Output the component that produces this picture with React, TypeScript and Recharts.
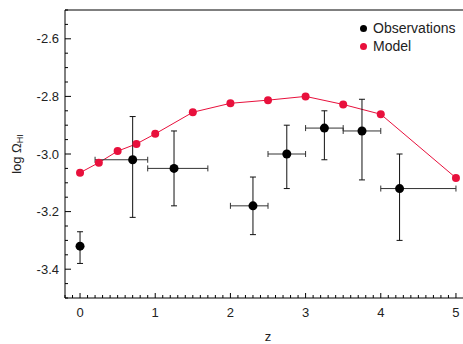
import React from 'react';
import {
  ComposedChart,
  Line,
  Scatter,
  ErrorBar,
  XAxis,
  YAxis,
  Legend,
} from 'recharts';

// model curve
const modelZ = [0, 0.25, 0.5, 0.75, 1, 1.5, 2, 2.5, 3, 3.5, 4, 5];
const modelLogOmega = [-3.065, -3.03, -2.99, -2.965, -2.93, -2.855, -2.824, -2.813, -2.8, -2.828, -2.862, -3.083];

// observations with errors (low / high deltas)
const obsZ = [0, 0.7, 1.25, 2.3, 2.75, 3.25, 3.75, 4.25];
const obsLogOmega = [-3.32, -3.02, -3.05, -3.18, -3.0, -2.91, -2.92, -3.12];
const obsErrLow = [0.06, 0.2, 0.13, 0.1, 0.12, 0.11, 0.17, 0.18];
const obsErrHigh = [0.05, 0.15, 0.13, 0.1, 0.1, 0.06, 0.11, 0.12];
const obsZLow = [0, 0.5, 0.35, 0.3, 0.25, 0.25, 0.25, 0.25];
const obsZHigh = [0, 0.2, 0.45, 0.2, 0.25, 0.25, 0.25, 0.75];

const xMajor = [0, 1, 2, 3, 4, 5];
const yMajor = [-2.6, -2.8, -3.0, -3.2, -3.4];

const xTicks = Array.from({ length: 55 }, (_, i) => Math.round((-0.2 + i * 0.1) * 100) / 100);
const yTicks = Array.from({ length: 21 }, (_, i) => Math.round((-3.5 + i * 0.05) * 100) / 100);

const modelData = modelZ.map((x, i) => ({ x, y: modelLogOmega[i] }));
const obsData = obsZ.map((x, i) => ({
  x,
  y: obsLogOmega[i],
  ey: [obsErrLow[i], obsErrHigh[i]],
  ex: [obsZLow[i], obsZHigh[i]],
}));

const RED = '#e8103c';
const FONT = '"Liberation Sans", Arial, sans-serif';

const isMajor = (v: number, list: number[]) => list.some((m) => Math.abs(m - v) < 1e-6);

const makeTick = (side: string, margin: number) => (props: any) => {
  const { x, y, payload } = props;
  const v = payload.value;
  if (side === 'bottom' || side === 'top') {
    const major = isMajor(v, xMajor);
    const len = major ? 5 : 3;
    const ay = side === 'bottom' ? y - margin : y + margin;
    const y2 = side === 'bottom' ? ay - len : ay + len;
    return (
      <g>
        <line x1={x} x2={x} y1={ay} y2={y2} stroke="#000" strokeWidth={1} />
        {side === 'bottom' && major && (
          <text x={x} y={y} dy="0.71em" textAnchor="middle" fontSize={13} fill="#222" fontFamily={FONT}>
            {v}
          </text>
        )}
      </g>
    );
  }
  const major = isMajor(v, yMajor);
  const len = major ? 6 : 3;
  const ax = side === 'left' ? x + margin : x - margin;
  const x2 = side === 'left' ? ax + len : ax - len;
  return (
    <g>
      <line x1={ax} x2={x2} y1={y} y2={y} stroke="#000" strokeWidth={1} />
      {side === 'left' && major && (
        <text x={x} y={y} dy="0.355em" textAnchor="end" fontSize={13} fill="#222" fontFamily={FONT}>
          {v.toFixed(1)}
        </text>
      )}
    </g>
  );
};

const YTitle = (props: any) => {
  const vb = props.viewBox;
  const cy = vb.y + vb.height / 2;
  return (
    <text transform={`translate(21, ${cy}) rotate(-90)`} textAnchor="middle" fontSize={13} fill="#222" fontFamily={FONT}>
      <tspan>log Ω</tspan>
      <tspan fontSize={9} dy={1.5}>HI</tspan>
    </text>
  );
};

const LegendBox = () => (
  <div style={{ fontFamily: FONT, fontSize: 14, color: '#222' }}>
    {[
      { name: 'Observations', color: '#000' },
      { name: 'Model', color: RED },
    ].map((it) => (
      <div key={it.name} style={{ display: 'flex', alignItems: 'center', height: 18 }}>
        <span
          style={{
            display: 'inline-block',
            width: 7,
            height: 7,
            borderRadius: '50%',
            background: it.color,
            marginLeft: 4.5,
            marginRight: 6.5,
          }}
        />
        <span>{it.name}</span>
      </div>
    ))}
  </div>
);

export default function App() {
  return (
    <div style={{ position: 'absolute', left: 0, top: 0, width: 463, height: 344, overflow: 'hidden', background: '#fff' }}>
      <ComposedChart width={472} height={344} margin={{ top: 9, right: 0, bottom: 0, left: 0 }}>
        <XAxis
          dataKey="x"
          type="number"
          scale="linear"
          domain={[-0.2, 5.2]}
          allowDataOverflow
          ticks={xTicks}
          interval={0}
          height={46}
          tickSize={0}
          tickMargin={10}
          tickLine={false}
          axisLine={{ stroke: '#000' }}
          tick={makeTick('bottom', 10)}
          label={{ value: 'z', position: 'insideBottom', offset: 3, fontSize: 13, fill: '#222', fontFamily: FONT }}
        />
        <XAxis
          xAxisId="top"
          orientation="top"
          type="number"
          scale="linear"
          domain={[-0.2, 5.2]}
          allowDataOverflow
          ticks={xTicks}
          interval={0}
          height={1}
          tickSize={0}
          tickMargin={0}
          tickLine={false}
          axisLine={{ stroke: '#000' }}
          tick={makeTick('top', 0)}
        />
        <YAxis
          dataKey="y"
          type="number"
          scale="linear"
          domain={[-3.5, -2.5]}
          allowDataOverflow
          ticks={yTicks}
          interval={0}
          width={65}
          tickSize={0}
          tickMargin={6}
          tickLine={false}
          axisLine={{ stroke: '#000' }}
          tick={makeTick('left', 6)}
          label={<YTitle />}
        />
        <YAxis
          yAxisId="right"
          orientation="right"
          type="number"
          scale="linear"
          domain={[-3.5, -2.5]}
          allowDataOverflow
          ticks={yTicks}
          interval={0}
          width={1}
          tickSize={0}
          tickMargin={0}
          tickLine={false}
          axisLine={{ stroke: '#000' }}
          tick={makeTick('right', 0)}
        />
        <Legend
          layout="vertical"
          align="center"
          verticalAlign="middle"
          wrapperStyle={{ left: 355, top: 19, width: 110, height: 40 }}
          content={<LegendBox />}
        />
        <Line
          data={modelData}
          dataKey="y"
          stroke={RED}
          strokeWidth={1}
          dot={{ r: 4, fill: RED, stroke: 'none' }}
          activeDot={false}
          isAnimationActive={false}
          legendType="none"
        />
        <Scatter
          data={obsData}
          dataKey="y"
          isAnimationActive={false}
          shape={(p: any) => <circle cx={p.cx} cy={p.cy} r={4.5} fill="#000" />}
        >
          <ErrorBar dataKey="ey" direction="y" width={3} stroke="#111" strokeWidth={1} isAnimationActive={false} />
          <ErrorBar dataKey="ex" direction="x" width={3} stroke="#333" strokeWidth={1} isAnimationActive={false} />
        </Scatter>
      </ComposedChart>
    </div>
  );
}
